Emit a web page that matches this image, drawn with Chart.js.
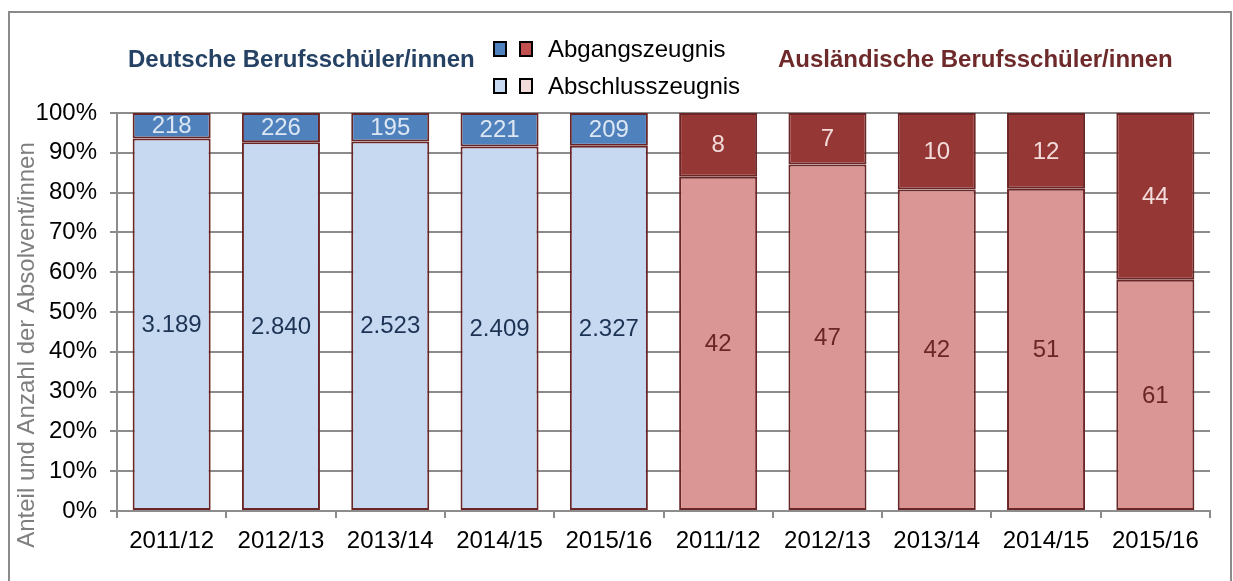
<!DOCTYPE html>
<html lang="de">
<head>
<meta charset="utf-8">
<title>Absolvent/innen an Berufsschulen</title>
<script src="https://cdn.jsdelivr.net/npm/chart.js@4"></script>
<style>
  html, body { margin: 0; padding: 0; background: #fff; }
  canvas { display: block; }
</style>
</head>
<body>
<canvas id="chart" width="1233" height="581"></canvas>
<script>
// Schuljahre
const years = ['2011/12', '2012/13', '2013/14', '2014/15', '2015/16'];

// Deutsche Berufsschüler/innen (Anzahl)
const deAbgang = [218, 226, 195, 221, 209];
const deAbschluss = [3189, 2840, 2523, 2409, 2327];

// Ausländische Berufsschüler/innen (Anzahl)
const ausAbgang = [8, 7, 10, 12, 44];
const ausAbschluss = [42, 47, 42, 51, 61];

const yTicks = [0, 10, 20, 30, 40, 50, 60, 70, 80, 90, 100];

// colours
const BLUE_DARK = '#4f81bd';
const BLUE_LIGHT = '#c6d9f1';
const RED_DARK = '#953735';
const RED_LIGHT = '#d99694';
const BAR_BORDER = '#6a2627';
const GRID = '#8c8c8c';
const FONT = '"Liberation Sans", Arial, sans-serif';

// build the 10 categories from the two groups
const labels = years.concat(years);
const abgangCounts = deAbgang.concat(ausAbgang);
const abschlussCounts = deAbschluss.concat(ausAbschluss);
const abschlussPct = abschlussCounts.map(function(v, i) {
    return v / (v + abgangCounts[i]) * 100;
});
const abgangPct = abgangCounts.map(function(v, i) {
    return v / (v + abschlussCounts[i]) * 100;
});

function colourFor(dark, light) {
    return labels.map(function(l, i) { return i < years.length ? dark : light; });
}

function formatDe(n) {
    return String(n).replace(/\B(?=(\d{3})+(?!\d))/g, '.');
}

/**
 * Frame, value labels, group titles, legend and y title
 */
const decorations = {
    id: 'decorations',
    beforeDraw: function(chart) {
        const ctx = chart.ctx;
        ctx.save();
        ctx.fillStyle = '#fff';
        ctx.fillRect(0, 0, chart.width, chart.height);
        ctx.strokeStyle = '#8a8a8a';
        ctx.lineWidth = 2;
        ctx.strokeRect(9, 12, 1222, 600);
        ctx.restore();
    },
    afterDatasetsDraw: function(chart) {
        const ctx = chart.ctx;
        ctx.save();
        ctx.font = '24px ' + FONT;
        ctx.textAlign = 'center';
        ctx.textBaseline = 'middle';
        chart.data.datasets.forEach(function(ds, d) {
            const meta = chart.getDatasetMeta(d);
            meta.data.forEach(function(bar, i) {
                const german = i < years.length;
                if (ds.counts === 'abschluss') {
                    ctx.fillStyle = german ? '#1c3354' : '#6a2627';
                } else {
                    ctx.fillStyle = german ? '#dde7f3' : '#f2dcdb';
                }
                const value = ds.countValues[i];
                ctx.fillText(formatDe(value), bar.x, (bar.y + bar.base) / 2 + 1);
            });
        });
        ctx.restore();
    },
    afterDraw: function(chart) {
        const ctx = chart.ctx;
        ctx.save();

        // group titles
        ctx.font = 'bold 24px ' + FONT;
        ctx.textBaseline = 'middle';
        ctx.textAlign = 'left';
        ctx.fillStyle = '#254264';
        ctx.fillText('Deutsche Berufsschüler/innen', 128, 60);
        ctx.fillStyle = '#6e2a2a';
        ctx.fillText('Ausländische Berufsschüler/innen', 778, 60);

        // legend with two swatches per entry
        const rows = [
            { text: 'Abgangszeugnis', colours: [BLUE_DARK, '#c0504d'], y: 49 },
            { text: 'Abschlusszeugnis', colours: [BLUE_LIGHT, '#f2dcdb'], y: 86 }
        ];
        ctx.font = '24px ' + FONT;
        rows.forEach(function(row) {
            row.colours.forEach(function(c, k) {
                const x = 494 + k * 26;
                ctx.fillStyle = c;
                ctx.fillRect(x, row.y - 7, 12, 14);
                ctx.strokeStyle = '#000';
                ctx.lineWidth = 2;
                ctx.strokeRect(x, row.y - 7, 12, 14);
            });
            ctx.fillStyle = '#000';
            ctx.fillText(row.text, 548, row.y + 1);
        });

        // y axis title
        ctx.translate(27, 345);
        ctx.rotate(-Math.PI / 2);
        ctx.textAlign = 'center';
        ctx.fillStyle = '#7f7f7f';
        ctx.fillText('Anteil und Anzahl der Absolvent/innen', 0, 0);

        ctx.restore();
    }
};

new Chart(document.getElementById('chart'), {
    type: 'bar',
    data: {
        labels: labels,
        datasets: [{
            label: 'Abschlusszeugnis',
            counts: 'abschluss',
            countValues: abschlussCounts,
            data: abschlussPct,
            backgroundColor: colourFor(BLUE_LIGHT, RED_LIGHT),
            borderColor: BAR_BORDER,
            borderWidth: 2,
            borderSkipped: false
        }, {
            label: 'Abgangszeugnis',
            counts: 'abgang',
            countValues: abgangCounts,
            data: abgangPct,
            backgroundColor: colourFor(BLUE_DARK, RED_DARK),
            borderColor: BAR_BORDER,
            borderWidth: 2,
            borderSkipped: false
        }]
    },
    options: {
        responsive: false,
        devicePixelRatio: 1,
        animation: false,
        categoryPercentage: 1.0,
        barPercentage: 0.714,
        layout: {
            padding: { top: 113, right: 23, left: 0, bottom: 0 }
        },
        plugins: {
            legend: { display: false },
            tooltip: { enabled: false }
        },
        scales: {
            x: {
                stacked: true,
                grid: {
                    drawOnChartArea: false,
                    drawTicks: true,
                    tickLength: 7,
                    color: GRID,
                    lineWidth: 2
                },
                border: { color: GRID, width: 2 },
                ticks: {
                    color: '#000',
                    padding: 9,
                    maxRotation: 0,
                    autoSkip: false,
                    font: { family: FONT, size: 24 }
                },
                afterFit: function(scale) { scale.height = 70; }
            },
            y: {
                stacked: true,
                min: 0,
                max: 100,
                afterBuildTicks: function(scale) {
                    scale.ticks = yTicks.map(function(v) { return { value: v }; });
                },
                grid: {
                    color: GRID,
                    lineWidth: 2,
                    tickLength: 7
                },
                border: { color: GRID, width: 2 },
                ticks: {
                    color: '#000',
                    padding: 13,
                    font: { family: FONT, size: 24 },
                    callback: function(v) { return v + '%'; }
                },
                afterFit: function(scale) { scale.width = 117; }
            }
        }
    },
    plugins: [decorations]
});
</script>
</body>
</html>
